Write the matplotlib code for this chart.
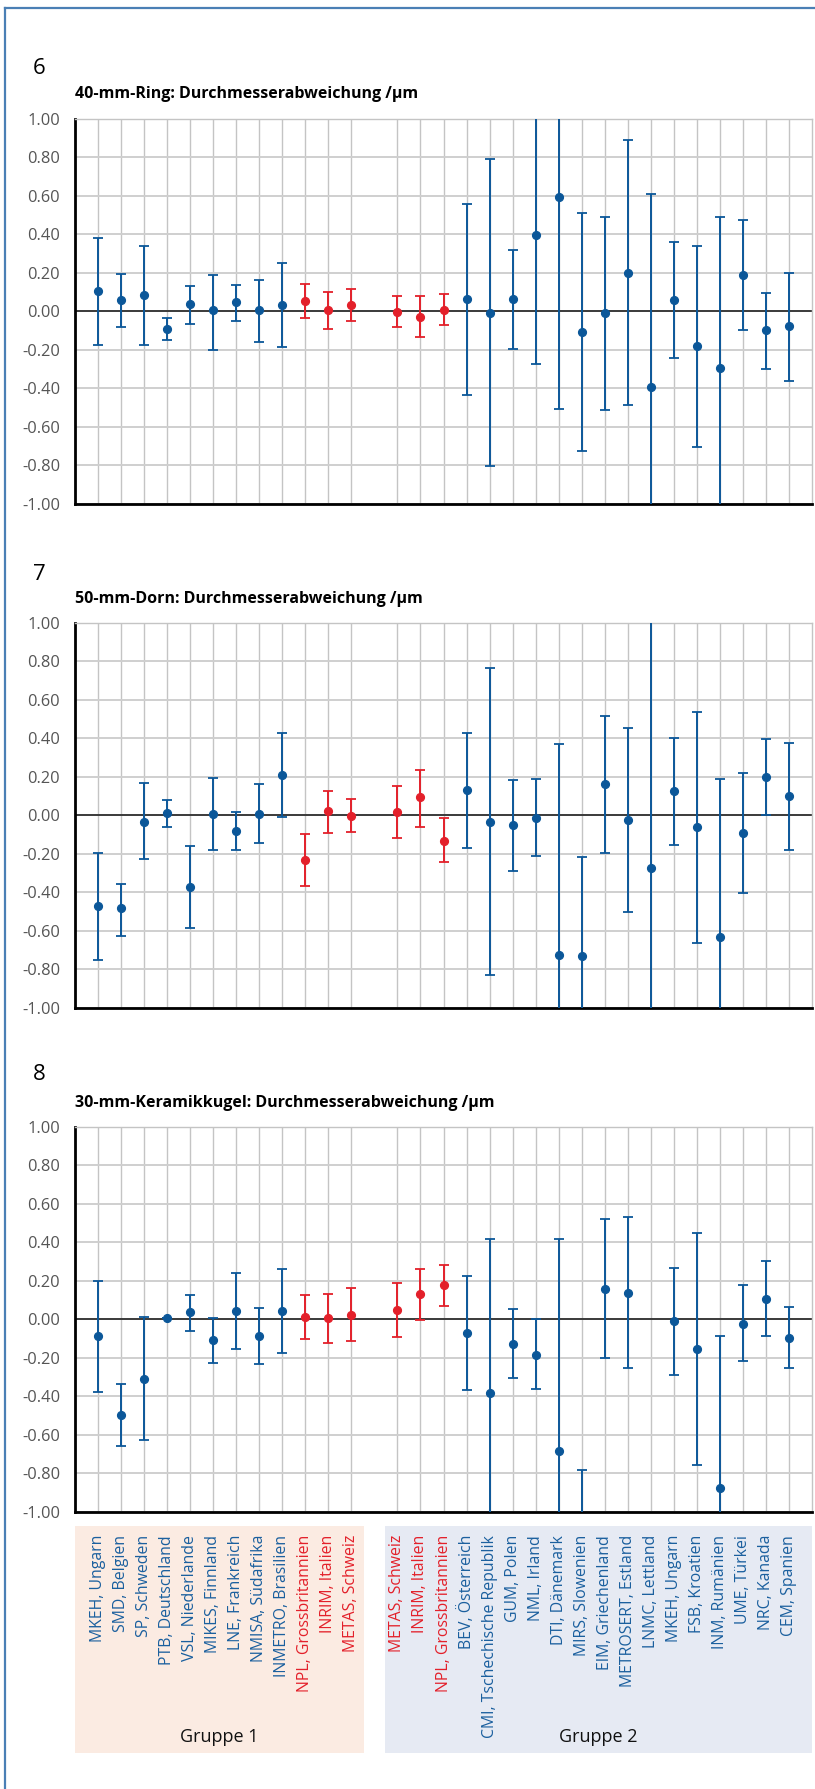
import matplotlib
matplotlib.use("Agg")
import matplotlib.pyplot as plt
import numpy as np
from matplotlib.transforms import blended_transform_factory
from matplotlib.patches import Rectangle
from matplotlib.lines import Line2D

plt.rcParams['font.family'] = ['Open Sans', 'DejaVu Sans']

nan = np.nan

# ---------------- data ----------------
labels_g1 = ["MKEH, Ungarn", "SMD, Belgien", "SP, Schweden", "PTB, Deutschland",
             "VSL, Niederlande", "MIKES, Finnland", "LNE, Frankreich", "NMISA, Südafrika",
             "INMETRO, Brasilien", "NPL, Grossbritannien", "INRIM, Italien", "METAS, Schweiz"]
labels_g2 = ["METAS, Schweiz", "INRIM, Italien", "NPL, Grossbritannien", "BEV, Österreich",
             "CMI, Tschechische Republik", "GUM, Polen", "NML, Irland", "DTI, Dänemark",
             "MIRS, Slowenien", "EIM, Griechenland", "METROSERT, Estland", "LNMC, Lettland",
             "MKEH, Ungarn", "FSB, Kroatien", "INM, Rumänien", "UME, Türkei",
             "NRC, Kanada", "CEM, Spanien"]
pilot_g1 = [False]*9 + [True]*3
pilot_g2 = [True]*3 + [False]*15

titles = ["40-mm-Ring: Durchmesserabweichung /µm",
          "50-mm-Dorn: Durchmesserabweichung /µm",
          "30-mm-Keramikkugel: Durchmesserabweichung /µm"]
numbers = ["6", "7", "8"]
group_names = ["Gruppe 1", "Gruppe 2"]
yticks = [-1.0, -0.8, -0.6, -0.4, -0.2, 0.0, 0.2, 0.4, 0.6, 0.8, 1.0]

# panel 6: 40-mm ring
p1_val = [0.104, 0.059, 0.083, -0.090, 0.036, 0.005, 0.047, 0.005, 0.035, 0.055, 0.009, 0.035,
          -0.002, -0.031, 0.007, 0.062, -0.007, 0.064, 0.394, 0.593, -0.109, -0.009, 0.201, -0.393,
          0.059, -0.182, -0.294, 0.190, -0.099, -0.078]
p1_hi = [0.381, 0.192, 0.341, -0.036, 0.131, 0.190, 0.138, 0.164, 0.253, 0.142, 0.100, 0.114,
         0.081, 0.078, 0.088, 0.557, 0.792, 0.320, 1.06, 1.69, 0.509, 0.490, 0.889, 0.611,
         0.358, 0.337, 0.490, 0.474, 0.095, 0.201]
p1_lo = [-0.176, -0.080, -0.176, -0.150, -0.066, -0.201, -0.052, -0.159, -0.183, -0.035, -0.090, -0.050,
         -0.080, -0.135, -0.071, -0.436, -0.804, -0.195, -0.272, -0.507, -0.727, -0.510, -0.484, -1.397,
         -0.242, -0.702, -1.078, -0.097, -0.298, -0.360]

# panel 7: 50-mm plug
p2_val = [-0.472, -0.483, -0.035, 0.012, -0.374, 0.007, -0.080, 0.007, 0.211, -0.232, 0.021, -0.002,
          0.019, 0.093, -0.131, 0.130, -0.033, -0.050, -0.012, -0.727, -0.732, 0.163, -0.026, -0.273,
          0.128, -0.061, -0.633, -0.092, 0.199, 0.100]
p2_hi = [-0.197, -0.355, 0.166, 0.080, -0.159, 0.196, 0.017, 0.164, 0.429, -0.097, 0.125, 0.087,
         0.154, 0.237, -0.012, 0.429, 0.765, 0.183, 0.189, 0.369, -0.215, 0.517, 0.455, 1.08,
         0.403, 0.538, 0.189, 0.221, 0.398, 0.375]
p2_lo = [-0.753, -0.625, -0.228, -0.059, -0.585, -0.180, -0.178, -0.144, -0.007, -0.365, -0.093, -0.088,
         -0.118, -0.062, -0.244, -0.170, -0.827, -0.287, -0.209, -1.823, -1.249, -0.197, -0.500, -1.62,
         -0.152, -0.661, -1.455, -0.401, 0.003, -0.180]

# panel 8: 30-mm ceramic sphere
p3_val = [-0.088, -0.497, -0.310, 0.005, 0.038, -0.107, 0.045, -0.085, 0.042, 0.012, 0.005, 0.024,
          0.048, 0.130, 0.178, -0.073, -0.382, -0.128, -0.185, -0.682, -1.30, 0.159, 0.137, nan,
          -0.007, -0.152, -0.877, -0.022, 0.106, -0.095]
p3_hi = [0.199, -0.337, 0.014, 0.005, 0.126, 0.009, 0.242, 0.061, 0.261, 0.125, 0.131, 0.161,
         0.189, 0.261, 0.284, 0.225, 0.417, 0.052, 0.003, 0.417, -0.780, 0.519, 0.531, nan,
         0.268, 0.448, -0.085, 0.176, 0.304, 0.064]
p3_lo = [-0.375, -0.657, -0.626, 0.005, -0.059, -0.225, -0.154, -0.232, -0.175, -0.100, -0.123, -0.112,
         -0.092, -0.005, 0.069, -0.369, -1.181, -0.306, -0.360, -1.781, -1.82, -0.202, -0.253, nan,
         -0.287, -0.754, -1.669, -0.215, -0.088, -0.251]

panels = [(p1_val, p1_hi, p1_lo), (p2_val, p2_hi, p2_lo), (p3_val, p3_hi, p3_lo)]

# ---------------- style ----------------
BLUE = "#0b5799"
RED = "#e3202a"
LBL_BLUE = "#1a5f9e"
GRID = "#c4c4c4"
TICK = "#555555"

W, H = 815, 1789
fig = plt.figure(figsize=(W/100, H/100), dpi=100)

def fy(px):
    return 1 - px/H

pos_g1 = list(range(1, 13))
pos_g2 = list(range(14, 32))
positions = pos_g1 + pos_g2
labels = labels_g1 + labels_g2
pilot = pilot_g1 + pilot_g2

ax_left = 75.3/W
ax_w = (811.7-75.3)/W
ax_tops = [118.7, 622.7, 1126.7]
ax_h_px = 385.3
title_y = [94, 599, 1103]
num_y = [68, 575, 1075]

axes = []
for k, (vals, hi, lo) in enumerate(panels):
    top = ax_tops[k]
    ax = fig.add_axes([ax_left, fy(top + ax_h_px), ax_w, ax_h_px/H])
    axes.append(ax)
    ax.set_xlim(0, 32)
    ax.set_ylim(-1.0, 1.0)
    ax.set_xticks(positions)
    ax.set_xticklabels([])
    ax.set_yticks(yticks)
    ax.set_yticklabels([f"{t:.2f}" for t in yticks], color=TICK, fontsize=11.8)
    ax.tick_params(axis='both', length=0)
    ax.tick_params(axis='y', pad=11)
    ax.grid(True, axis='x', color=GRID, linewidth=1.0)
    ax.grid(True, axis='y', color="#cfcfcf", linewidth=1.4)
    ax.set_axisbelow(True)
    for s in ['top', 'right']:
        ax.spines[s].set_color(GRID)
        ax.spines[s].set_linewidth(1.0)
    for s in ['left', 'bottom']:
        ax.spines[s].set_color('black')
        ax.spines[s].set_linewidth(2.0)
    ax.axhline(0, color='#222222', linewidth=1.2, zorder=1.5)

    v = np.array(vals, dtype=float)
    h = np.array(hi, dtype=float)
    l = np.array(lo, dtype=float)
    x = np.array(positions, dtype=float)
    pm = np.array(pilot)
    for mask, col in [(~pm, BLUE), (pm, RED)]:
        ax.errorbar(x[mask], v[mask], yerr=[v[mask]-l[mask], h[mask]-v[mask]],
                    fmt='o', color=col, ecolor=col, markersize=5.6, elinewidth=1.4,
                    capsize=3.3, capthick=1.3, zorder=3)

    fig.text(33/W, fy(num_y[k]), numbers[k], fontsize=16, color='black',
             ha='left', va='center')
    fig.text(75/W, fy(title_y[k]), titles[k], fontsize=11.5, fontweight='bold',
             color='black', ha='left', va='center')

# group boxes below last panel
box_top, box_bot = 1526, 1752.7
fig.patches.append(Rectangle((75/W, fy(box_bot)), (364-75)/W, (box_bot-box_top)/H,
                             transform=fig.transFigure, facecolor="#fbebe2", edgecolor='none', zorder=0))
fig.patches.append(Rectangle((385/W, fy(box_bot)), (812-385)/W, (box_bot-box_top)/H,
                             transform=fig.transFigure, facecolor="#e6eaf3", edgecolor='none', zorder=0))
fig.text(219.5/W, fy(1737), group_names[0], fontsize=13, ha='center', va='center', color='#111111')
fig.text(598.5/W, fy(1737), group_names[1], fontsize=13, ha='center', va='center', color='#111111')

trans = blended_transform_factory(axes[2].transData, fig.transFigure)
for xp, lab, p in zip(positions, labels, pilot):
    fig.text(xp, fy(1535), lab, transform=trans, rotation=90, ha='center', va='top',
             fontsize=11.4, color=RED if p else LBL_BLUE)

# outer frame (left and top)
fig.lines.append(Line2D([4.5/W, 4.5/W], [0, fy(8)], transform=fig.transFigure,
                        color="#4a7fb5", linewidth=1.6))
fig.lines.append(Line2D([4.5/W, 1], [fy(8), fy(8)], transform=fig.transFigure,
                        color="#4a7fb5", linewidth=1.6))

fig.savefig("out.png", dpi=100, facecolor='white')
